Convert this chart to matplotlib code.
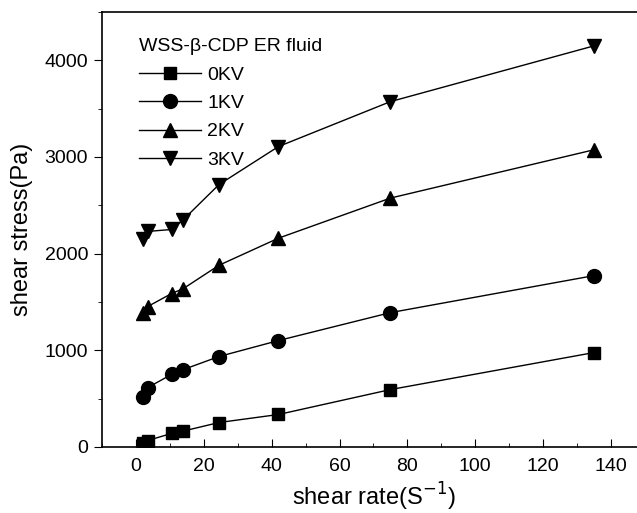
import matplotlib
matplotlib.use('Agg')
import matplotlib.pyplot as plt
from matplotlib.ticker import MultipleLocator

plt.rcParams['font.family'] = ['Liberation Sans', 'DejaVu Sans']

# shear rate (1/s)
rate = [2, 3.5, 10.5, 14, 24.5, 42, 75, 135]

# shear stress (Pa) at each field strength
kv0 = [46, 67, 140, 165, 253, 336, 594, 977]
kv1 = [522, 615, 750, 801, 936, 1101, 1390, 1773]
kv2 = [1391, 1453, 1587, 1639, 1880, 2160, 2575, 3075]
kv3 = [2150, 2230, 2250, 2353, 2715, 3108, 3573, 4150]

labels = ['0KV', '1KV', '2KV', '3KV']
markers = ['s', 'o', '^', 'v']
sizes = [9, 10, 10.5, 10.5]

fig = plt.figure(figsize=(6.37, 5.13), dpi=100)
ax = fig.add_axes([0.16, 0.1287, 0.8526, 0.8479])

for ys, lab, m, ms in zip([kv0, kv1, kv2, kv3], labels, markers, sizes):
    ax.plot(rate, ys, color='black', lw=1.0, marker=m, ms=ms,
            mfc='black', mec='black', label=lab)

ax.set_xlim(-10, 150)
ax.set_ylim(0, 4500)
ax.xaxis.set_major_locator(MultipleLocator(20))
ax.xaxis.set_minor_locator(MultipleLocator(10))
ax.yaxis.set_major_locator(MultipleLocator(1000))
ax.yaxis.set_minor_locator(MultipleLocator(500))

ax.tick_params(axis='x', which='both', direction='in', labelsize=14, pad=8)
ax.tick_params(axis='x', which='major', length=6)
ax.tick_params(axis='x', which='minor', length=3)
ax.tick_params(axis='y', which='both', direction='out', labelsize=14, pad=4)
ax.tick_params(axis='y', which='major', length=6)
ax.tick_params(axis='y', which='minor', length=3)
for s in ax.spines.values():
    s.set_linewidth(1.2)
ax.spines['right'].set_visible(False)

ax.set_xlabel('shear rate(S$^{-1}$)', fontsize=17, labelpad=4)
ax.set_ylabel('shear stress(Pa)', fontsize=17, labelpad=8)

leg = ax.legend(title='WSS-\u03b2-CDP ER fluid', loc='upper left',
                bbox_to_anchor=(0.04, 0.975), frameon=False, fontsize=14,
                title_fontsize=14, handlelength=3.2, handletextpad=0.3,
                labelspacing=0.55, alignment='left', borderaxespad=0.4)

fig.savefig('out.png', dpi=100)
